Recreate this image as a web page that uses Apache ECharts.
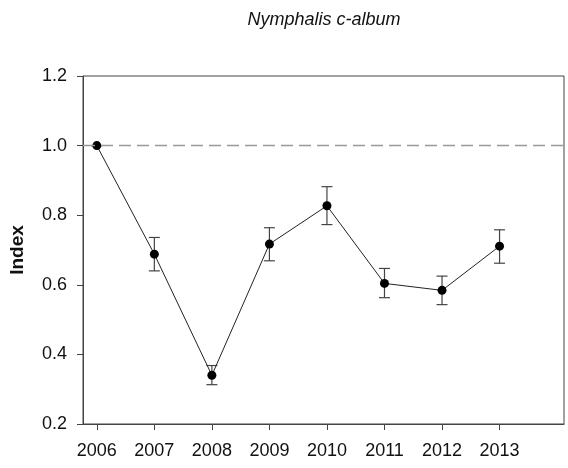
<!DOCTYPE html>
<html>
<head>
<meta charset="utf-8">
<script src="https://cdn.jsdelivr.net/npm/echarts@6/dist/echarts.min.js"></script>
<style>
  html, body { margin: 0; padding: 0; background: #fff; }
  #chart { width: 568px; height: 468px; }
</style>
</head>
<body>
<div id="chart"></div>
<script>
// values
var years = [2006, 2007, 2008, 2009, 2010, 2011, 2012, 2013];
var indexValues = [1.0, 0.688, 0.340, 0.717, 0.827, 0.604, 0.584, 0.711];
var errLow = [1.0, 0.640, 0.313, 0.669, 0.773, 0.563, 0.543, 0.662];
var errHigh = [1.0, 0.736, 0.368, 0.764, 0.882, 0.647, 0.625, 0.758];

var axisColor = '#444';
var font = 'Liberation Sans, Arial, sans-serif';

var chart = echarts.init(document.getElementById('chart'));

var lineData = years.map(function (y, i) { return [y, indexValues[i]]; });
var errData = years.map(function (y, i) { return [y, errLow[i], errHigh[i]]; });

var option = {
  animation: false,
  title: {
    text: 'Nymphalis c-album',
    left: 319,
    textAlign: 'center',
    top: 6,
    textStyle: { fontFamily: font, fontStyle: 'italic', fontWeight: 'normal', fontSize: 18, color: '#111' }
  },
  grid: {
    left: 82, right: 4, top: 76, bottom: 44,
    show: true, borderColor: axisColor, borderWidth: 1
  },
  xAxis: {
    type: 'value',
    min: 2005.76,
    max: 2014.12,
    splitLine: { show: false },
    axisLine: { lineStyle: { color: axisColor } },
    axisTick: { show: true, length: 6, customValues: years, lineStyle: { color: axisColor } },
    axisLabel: {
      customValues: years,
      margin: 18,
      fontFamily: font, fontSize: 18, color: '#111',
      formatter: function (v) { return String(v); }
    }
  },
  yAxis: {
    type: 'value',
    min: 0.2, max: 1.2, interval: 0.2,
    name: 'Index',
    nameLocation: 'middle',
    nameGap: 56,
    nameTextStyle: { fontFamily: font, fontWeight: 'bold', fontSize: 19, color: '#111' },
    splitLine: { show: false },
    axisLine: { show: true, lineStyle: { color: axisColor } },
    axisTick: { show: true, length: 6, lineStyle: { color: axisColor } },
    axisLabel: {
      margin: 16,
      fontFamily: font, fontSize: 18, color: '#111',
      formatter: function (v) { return v.toFixed(1); }
    }
  },
  series: [
    {
      type: 'custom',
      data: errData,
      z: 2,
      renderItem: function (params, api) {
        var x = api.value(0);
        var lo = api.coord([x, api.value(1)]);
        var hi = api.coord([x, api.value(2)]);
        var hw = 5.5;
        var style = { stroke: '#444', lineWidth: 1.2 };
        return {
          type: 'group',
          children: [
            { type: 'line', shape: { x1: lo[0], y1: lo[1], x2: hi[0], y2: hi[1] }, style: style },
            { type: 'line', shape: { x1: lo[0] - hw, y1: lo[1], x2: lo[0] + hw, y2: lo[1] }, style: style },
            { type: 'line', shape: { x1: hi[0] - hw, y1: hi[1], x2: hi[0] + hw, y2: hi[1] }, style: style }
          ]
        };
      }
    },
    {
      type: 'line',
      data: lineData,
      z: 3,
      symbol: 'circle',
      symbolSize: 9,
      itemStyle: { color: '#000' },
      lineStyle: { color: '#222', width: 1 },
      markLine: {
        silent: true,
        symbol: 'none',
        label: { show: false },
        lineStyle: { color: '#999', type: [12, 6], width: 1.3 },
        data: [{ yAxis: 1.0 }]
      }
    }
  ]
};

option && chart.setOption(option);
</script>
</body>
</html>
